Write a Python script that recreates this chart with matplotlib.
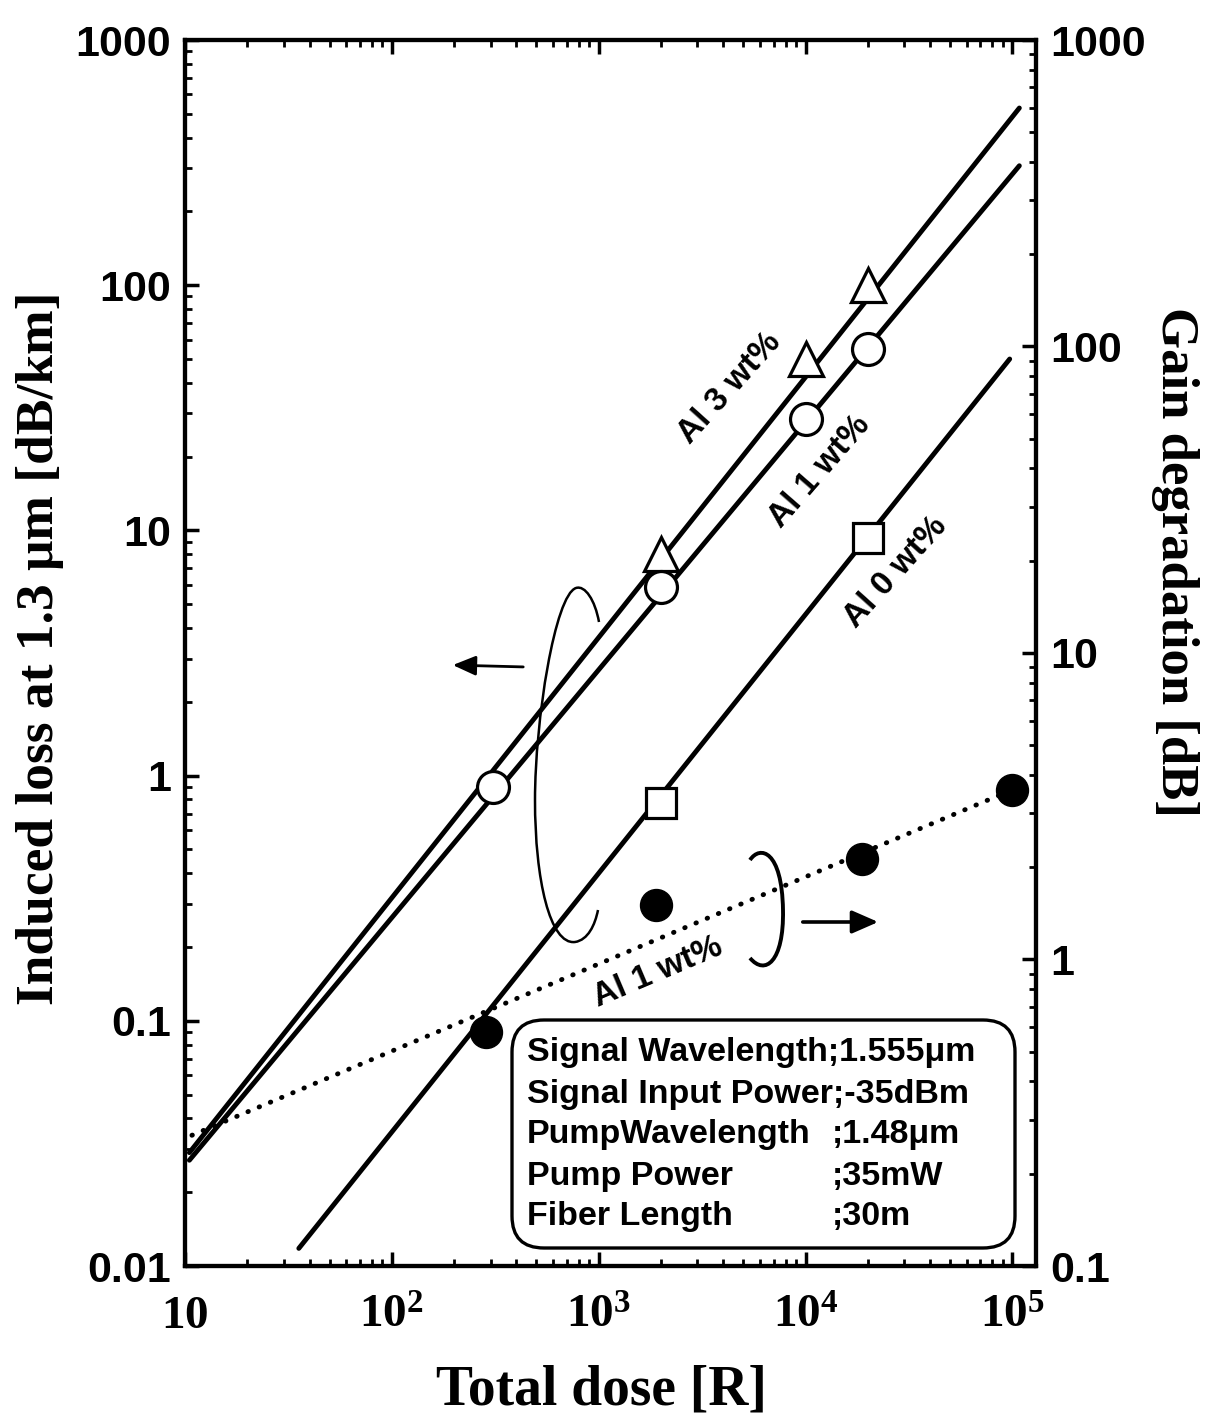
import matplotlib
matplotlib.use("Agg")
import matplotlib.pyplot as plt
from matplotlib.path import Path
from matplotlib.patches import PathPatch, FancyBboxPatch, FancyArrowPatch
from matplotlib.ticker import FixedLocator, FixedFormatter, LogLocator, NullFormatter
from matplotlib.transforms import Affine2D

# ---------------- data ----------------
x_ticks = [10, 1e2, 1e3, 1e4, 1e5]
x_tick_labels = [r"$10$", r"$10^{2}$", r"$10^{3}$", r"$10^{4}$", r"$10^{5}$"]
yl_ticks = [0.01, 0.1, 1, 10, 100, 1000]
yl_tick_labels = ["0.01", "0.1", "1", "10", "100", "1000"]
yr_ticks = [0.1, 1, 10, 100, 1000]
yr_tick_labels = ["0.1", "1", "10", "100", "1000"]

# induced loss (left axis)
dose_al3 = [2000, 10000, 20000]
loss_al3 = [8.0, 50, 100]
dose_al1 = [310, 2000, 10000, 20000]
loss_al1 = [0.9, 5.9, 28.5, 55]
dose_al0 = [2000, 20000]
loss_al0 = [0.77, 9.3]

# fitted lines (end points)
fit_dose_al3 = [10.5, 1.08e5]
fit_loss_al3 = [0.029, 528]
fit_dose_al1 = [10.5, 1.08e5]
fit_loss_al1 = [0.027, 307]
fit_dose_al0 = [35.5, 9.7e4]
fit_loss_al0 = [0.0118, 50]

# gain degradation (right axis)
dose_gain = [285, 1900, 18700, 100000]
gain_al1 = [0.58, 1.51, 2.13, 3.58]
fit_dose_gain = [10.8, 1.0e5]
fit_gain = [0.267, 3.58]

box_lines_left = ["Signal Wavelength;1.555\u03bcm", "Signal Input Power;-35dBm",
                  "PumpWavelength", "Pump Power", "Fiber Length"]
box_lines_right = ["", "", ";1.48\u03bcm", ";35mW", ";30m"]

# ---------------- style ----------------
W, H = 1212, 1418
plt.rcParams["font.family"] = ["Liberation Sans", "DejaVu Sans"]
plt.rcParams["font.weight"] = "bold"
plt.rcParams["mathtext.fontset"] = "custom"
plt.rcParams["mathtext.rm"] = "Liberation Serif:bold"
plt.rcParams["mathtext.it"] = "Liberation Serif:bold"
plt.rcParams["mathtext.bf"] = "Liberation Serif:bold"
sans = ["Liberation Sans", "DejaVu Sans"]

fig = plt.figure(figsize=(W / 100, H / 100), dpi=100)
fig.patch.set_facecolor("white")
# pixel transform (origin top-left)
T = Affine2D().scale(1 / 100, -1 / 100).translate(0, H / 100) + fig.dpi_scale_trans

L, R, TOP, BOT = 185, 1036, 40, 1266
ax = fig.add_axes([L / W, 1 - BOT / H, (R - L) / W, (BOT - TOP) / H])
ax.set_xscale("log")
ax.set_yscale("log")
ax.set_xlim(10, 1.3e5)
ax.set_ylim(0.01, 1000)

ax2 = ax.twinx()
ax2.set_yscale("log")
ax2.set_ylim(0.1, 1000)

for a in (ax, ax2):
    for s in a.spines.values():
        s.set_linewidth(3)

ax.xaxis.set_major_locator(FixedLocator(x_ticks))
ax.xaxis.set_major_formatter(FixedFormatter(x_tick_labels))
ax.xaxis.set_minor_locator(LogLocator(base=10, subs=range(2, 10), numticks=30))
ax.xaxis.set_minor_formatter(NullFormatter())
ax.yaxis.set_major_locator(FixedLocator(yl_ticks))
ax.yaxis.set_major_formatter(FixedFormatter(yl_tick_labels))
ax.yaxis.set_minor_locator(LogLocator(base=10, subs=range(2, 10), numticks=30))
ax.yaxis.set_minor_formatter(NullFormatter())
ax2.yaxis.set_major_locator(FixedLocator(yr_ticks))
ax2.yaxis.set_major_formatter(FixedFormatter(yr_tick_labels))
ax2.yaxis.set_minor_locator(LogLocator(base=10, subs=range(2, 10), numticks=30))
ax2.yaxis.set_minor_formatter(NullFormatter())

ax.tick_params(axis="x", which="both", direction="in", top=True, bottom=True)
ax.tick_params(axis="y", which="both", direction="in", left=True, right=False)
ax2.tick_params(axis="y", which="both", direction="in", left=False, right=True)
for a in (ax, ax2):
    a.tick_params(which="major", length=10, width=2.5)
    a.tick_params(which="minor", length=5, width=2)
ax.tick_params(axis="x", which="major", pad=20, labelsize=34)
ax.tick_params(axis="y", which="major", pad=10, labelsize=31)
ax2.tick_params(axis="y", which="major", pad=10, labelsize=31)

# ---------------- data marks ----------------
lw = 3.5
ax.plot(fit_dose_al3, fit_loss_al3, color="black", lw=lw, solid_capstyle="round", zorder=2)
ax.plot(fit_dose_al1, fit_loss_al1, color="black", lw=lw, solid_capstyle="round", zorder=2)
ax.plot(fit_dose_al0, fit_loss_al0, color="black", lw=lw, solid_capstyle="round", zorder=2)
ax.plot(dose_al3, loss_al3, ls="none", marker="^", ms=24, mfc="white", mec="black", mew=2.3, zorder=3)
ax.plot(dose_al1, loss_al1, ls="none", marker="o", ms=23, mfc="white", mec="black", mew=2.3, zorder=3)
ax.plot(dose_al0, loss_al0, ls="none", marker="s", ms=22, mfc="white", mec="black", mew=2.3, zorder=3)

ax2.plot(fit_dose_gain, fit_gain, color="black", lw=3.5, ls=(0, (0.1, 2.4)),
         dash_capstyle="round", zorder=2)
ax2.plot(dose_gain, gain_al1, ls="none", marker="o", ms=23, mfc="black", mec="black", zorder=3)

# ---------------- annotations ----------------
al_texts = [("Al 3 wt%", 730, 388, 48), ("Al 1 wt%", 820, 472, 49),
            ("Al 0 wt%", 896, 572, 48), ("Al 1 wt%", 658, 972, 23)]
for s, px, py, rot in al_texts:
    fig.text(px, py, s, transform=T, family=sans, fontsize=24, fontweight="bold",
             rotation=rot, rotation_mode="anchor", ha="center", va="center")

# loops
loop1 = Path([(599, 622), (595, 600), (585, 585), (576, 588),
              (555, 595), (535, 720), (535, 800),
              (535, 880), (550, 945), (575, 942),
              (588, 940), (595, 925), (598, 910)],
             [Path.MOVETO] + [Path.CURVE4] * 12)
fig.add_artist(PathPatch(loop1, transform=T, fill=False, lw=1.8, color="black"))
loop2 = Path([(750, 860), (760, 845), (782, 850), (783, 910),
              (784, 962), (765, 976), (750, 958)],
             [Path.MOVETO] + [Path.CURVE4] * 6)
fig.add_artist(PathPatch(loop2, transform=T, fill=False, lw=2.8, color="black"))

fig.add_artist(FancyArrowPatch((526, 667), (450, 665), transform=T,
                               arrowstyle="-|>,head_length=14,head_width=6",
                               lw=2.0, color="black"))
fig.add_artist(FancyArrowPatch((800, 922), (881, 922), transform=T,
                               arrowstyle="-|>,head_length=16,head_width=7",
                               lw=2.6, color="black"))

# info box
fig.add_artist(FancyBboxPatch((512, 1020), 503, 228, transform=T,
                              boxstyle="round,pad=0,rounding_size=32",
                              fill=False, lw=2.4, ec="black"))
for i, (sl, sr) in enumerate(zip(box_lines_left, box_lines_right)):
    yy = 1053 + i * 41
    fig.text(527, yy, sl, transform=T, family=sans, fontsize=24.5, fontweight="bold",
             ha="left", va="center")
    if sr:
        fig.text(832, yy, sr, transform=T, family=sans, fontsize=24.5, fontweight="bold",
                 ha="left", va="center")

# axis labels
serif = ["Liberation Serif", "DejaVu Serif"]
fig.text(601, 1390, "Total dose [R]", transform=T, family=serif, fontsize=40,
         fontweight="bold", ha="center", va="center")
fig.text(40, 648, "Induced loss at 1.3 \u03bcm [dB/km]", transform=T, family=serif,
         fontsize=38.5, fontweight="bold", rotation=90, ha="center", va="center")
fig.text(1175, 562, "Gain degradation [dB]", transform=T, family=serif, fontsize=38,
         fontweight="bold", rotation=-90, ha="center", va="center")

fig.savefig("out.png", dpi=100, facecolor="white")
